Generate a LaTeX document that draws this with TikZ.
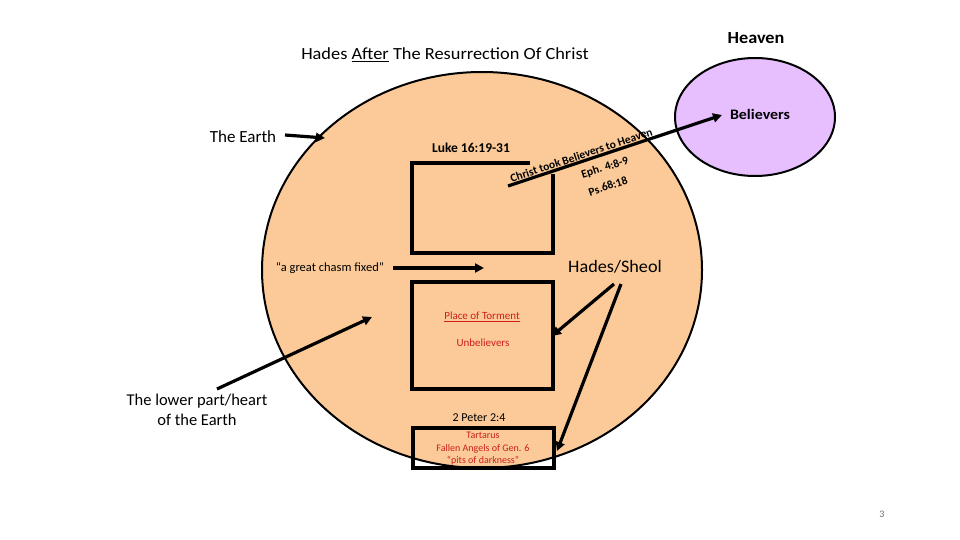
\documentclass[tikz,border=0pt]{standalone}
\usepackage{fontspec}
\setmainfont{Carlito}
\usetikzlibrary{arrows.meta,shapes.geometric}
\definecolor{peach}{RGB}{251,202,152}
\definecolor{lilac}{RGB}{231,191,255}
\definecolor{tred}{RGB}{205,30,30}
\definecolor{pgnum}{RGB}{110,110,110}
\tikzset{
  heavy/.style={line width=3.5pt},
  arr/.style={line width=3.2pt, -{Triangle[length=9pt,width=9pt]}},
  lbl/.style={inner sep=0pt, font=\fontsize{17}{20}\selectfont},
  small/.style={inner sep=0pt, font=\fontsize{12.5}{14}\selectfont},
  redtxt/.style={inner sep=0pt, text=tred, font=\fontsize{11}{13}\selectfont},
  slant/.style={inner sep=0pt, rotate=18.5, font=\fontsize{11.5}{13}\selectfont\bfseries},
}
\begin{document}
\begin{tikzpicture}[x=1pt,y=-1pt]
\useasboundingbox (0,0) rectangle (960,540);
% Earth and Heaven
\node[ellipse, draw, line width=2pt, fill=peach, minimum width=440pt, minimum height=396pt, inner sep=0pt] (earth) at (482,270) {};
\node[ellipse, draw, line width=2pt, fill=lilac, minimum width=160pt, minimum height=118pt, inner sep=0pt] (heaven) at (755,117) {};
% titles
\node[lbl, xscale=1.08] (title) at (445,55) {Hades \underline{After} The Resurrection Of Christ};
\node[lbl, xscale=1.07, font=\fontsize{17}{20}\selectfont\bfseries] (heavenlbl) at (756,38) {Heaven};
\node[inner sep=0pt, xscale=1.1, font=\fontsize{14.5}{16}\selectfont\bfseries] (believers) at (760,114) {Believers};
% The Earth
\node[lbl] (theearth) at (243,137) {The Earth};
\coordinate (ea1) at (285,135);
\coordinate (ea2) at (325,138);
\draw[arr] (ea1) -- (ea2);
% Luke
\node[inner sep=0pt, font=\fontsize{13.5}{15}\selectfont\bfseries] (luke) at (471,148) {Luke 16:19-31};
% upper box
\coordinate (ub1) at (528,163);
\coordinate (ub2) at (412,163);
\coordinate (ub3) at (412,253);
\coordinate (ub4) at (553,253);
\coordinate (ub5) at (553,176);
\draw[heavy, line cap=rect] (ub1) -- (ub2) -- (ub3) -- (ub4) -- (ub5);
% Christ took believers
\coordinate (c1) at (508,186);
\coordinate (c2) at (722,115);
\draw[arr] (c1) -- (c2);
\node[slant, inner sep=1pt, anchor=south] (christ) at (583,160) {Christ took Believers to Heaven};
\node[slant] (eph) at (605,168) {Eph. 4:8-9};
\node[slant] (ps) at (608,186) {Ps.68:18};
% chasm
\node[small] (chasm) at (330,268) {“a great chasm fixed”};
\coordinate (ch1) at (393,268);
\coordinate (ch2) at (484,268);
\draw[arr] (ch1) -- (ch2);
% lower box
\node[draw, line width=3.5pt, minimum width=141pt, minimum height=107pt, inner sep=0pt] (torment) at (482.5,335.5) {};
\node[redtxt] (place) at (482,317) {\underline{Place of Torment}};
\node[redtxt] (unbel) at (483,343) {Unbelievers};
% Hades/Sheol
\node[lbl, xscale=1.04, font=\fontsize{17.5}{20}\selectfont] (hades) at (615,267) {Hades/Sheol};
\coordinate (h1) at (614,284);
\coordinate (h2) at (621,284);
\coordinate (h1e) at (552,336);
\coordinate (h2e) at (557,451);
\draw[arr] (h1) -- (h1e);
\draw[arr] (h2) -- (h2e);
% Peter
\node[inner sep=0pt, font=\fontsize{12}{14}\selectfont] (peter) at (479,418) {2 Peter 2:4};
\node[draw, line width=3.5pt, minimum width=141pt, minimum height=40pt, inner sep=0pt] (tartbox) at (483.5,448) {};
\node[inner sep=0pt, text=tred, font=\fontsize{10}{12.5}\selectfont, align=center] (tart) at (483,449) {Tartarus\\Fallen Angels of Gen. 6\\“pits of darkness”};
% lower part
\node[lbl, align=center, font=\fontsize{16.5}{20}\selectfont] (lower) at (197,410) {The lower part/heart\\of the Earth};
\coordinate (l1) at (217,389);
\coordinate (l2) at (372,317);
\draw[arr] (l1) -- (l2);
% page number
\node[inner sep=0pt, text=pgnum, font=\fontsize{10}{12}\selectfont] (pg) at (882,514) {3};
\end{tikzpicture}
\end{document}
